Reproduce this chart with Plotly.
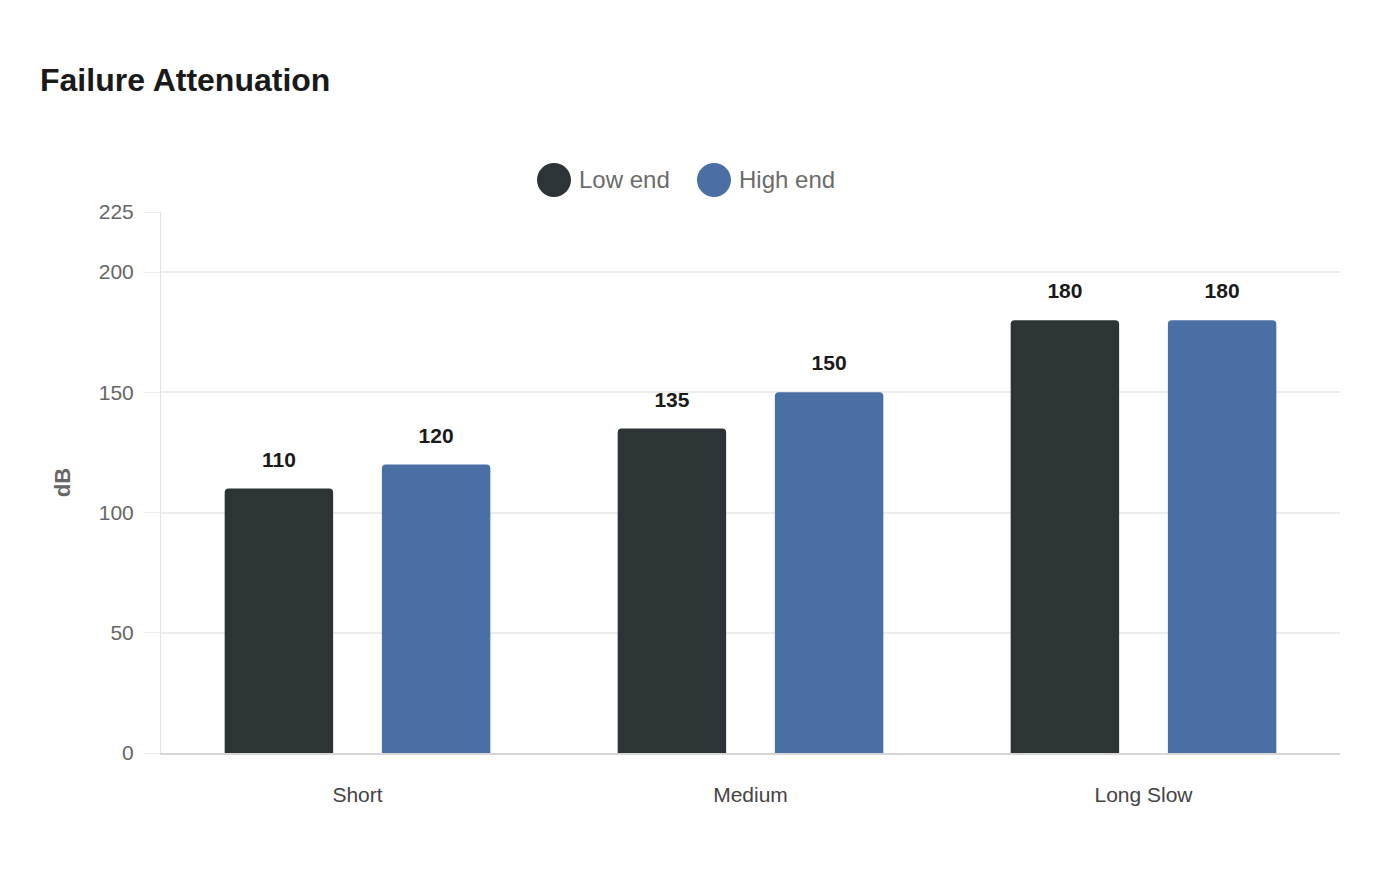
import plotly.graph_objects as go

categories = ["Short", "Medium", "Long Slow"]
low_end = [110, 135, 180]
high_end = [120, 150, 180]
series_names = ["Low end", "High end"]
series_colors = ["#2d3436", "#4a6fa5"]
y_ticks = [0, 50, 100, 150, 200, 225]

FONT = "Liberation Sans, Arial, sans-serif"

fig = go.Figure()
for name, vals, col in zip(series_names, [low_end, high_end], series_colors):
    fig.add_trace(go.Bar(
        x=categories, y=vals, name=name, offsetgroup=name,
        marker=dict(color=col, line=dict(width=0)),
        showlegend=False, hoverinfo="x+y",
    ))
    fig.add_trace(go.Scatter(
        x=categories, y=vals, offsetgroup=name, mode="markers+text",
        text=[str(v) for v in vals], textposition="top center",
        textfont=dict(family=FONT, size=21, color="#1a1a1a", weight="bold"),
        marker=dict(size=25, opacity=0),
        showlegend=False, hoverinfo="skip",
    ))

# custom legend (circles + labels), positioned relative to the plot area
legend_x = [554, 714]
shapes = []
annotations = []
for name, col, cx in zip(series_names, series_colors, legend_x):
    r = 17
    shapes.append(dict(type="circle", xref="paper", yref="paper",
                       x0=(cx - r - 161) / 1179, x1=(cx + r - 161) / 1179,
                       y0=(753 - 180 - r) / 541, y1=(753 - 180 + r) / 541,
                       fillcolor=col, line=dict(width=0)))
    annotations.append(dict(text=name, xref="paper", yref="paper",
                            x=(cx + 23 - 161) / 1179, y=(753 - 180) / 541,
                            xanchor="left", yanchor="middle", showarrow=False,
                            font=dict(family=FONT, size=24, color="#6b6b6b")))

fig.update_layout(
    width=1400, height=880,
    margin=dict(l=153, r=68, t=204, b=135),
    paper_bgcolor="white", plot_bgcolor="white",
    font=dict(family=FONT),
    barmode="group", bargap=0.2, bargroupgap=0.31, barcornerradius=4,
    scattermode="group",
    title=dict(text="<b>Failure Attenuation</b>", x=32 / 1400, xref="container",
               xanchor="left", y=1 - 72 / 880, yref="container", yanchor="middle",
               font=dict(family=FONT, size=32, color="#1a1a1a")),
    shapes=shapes, annotations=annotations,
    xaxis=dict(showgrid=False, showline=True, linecolor="#d6d6d6", linewidth=2,
               ticks="", ticklabelstandoff=22,
               tickfont=dict(family=FONT, size=21, color="#444444")),
    yaxis=dict(range=[0, 225], tickvals=y_ticks, showgrid=True, gridcolor="#ececec",
               gridwidth=1.5, zeroline=False, showline=True, linecolor="#e3e3e3",
               linewidth=1, ticks="outside", ticklen=16, tickcolor="#ececec",
               ticklabelstandoff=6,
               tickfont=dict(family=FONT, size=21, color="#666666"),
               title=dict(text="<b>dB</b>", standoff=22,
                          font=dict(family=FONT, size=22, color="#666666"))),
)

fig.write_html("out.html")
